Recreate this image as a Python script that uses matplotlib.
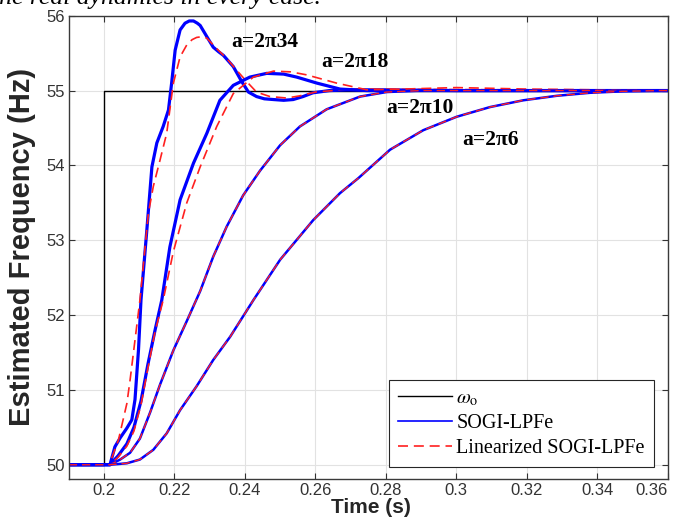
import matplotlib
matplotlib.use('Agg')
import matplotlib.pyplot as plt
from matplotlib.lines import Line2D

# reference step
t_ref = [0.19, 0.2, 0.2, 0.36]
f_ref = [50, 50, 55, 55]

# a = 2*pi*34
t34_b = [0.19, 0.2017, 0.2031, 0.2046, 0.2065, 0.2079, 0.2088, 0.2098, 0.2105, 0.2121, 0.2136,
         0.2150, 0.2168, 0.2183, 0.2192, 0.2202, 0.2216, 0.2230, 0.2242, 0.2254, 0.2265, 0.2273,
         0.2292, 0.2310, 0.2325, 0.2339, 0.2367, 0.2391, 0.2410, 0.2433, 0.2455, 0.2481, 0.2510,
         0.2537, 0.2565, 0.2593, 0.2640, 0.2700, 0.28, 0.30, 0.36]
f34_b = [50, 50, 50.24, 50.36, 50.49, 50.6, 50.87, 51.54, 52.2, 53.10, 53.98,
         54.30, 54.52, 54.74, 55.10, 55.54, 55.81, 55.90, 55.93, 55.93, 55.90, 55.87,
         55.72, 55.58, 55.52, 55.47, 55.32, 55.12, 54.98, 54.92, 54.89, 54.88, 54.87,
         54.88, 54.92, 54.97, 55.0, 55.01, 55.01, 55.0, 55.0]
t34_r = [0.19, 0.2015, 0.2041, 0.2065, 0.2074, 0.2102, 0.2126, 0.2140, 0.2159, 0.2178, 0.2197,
         0.2216, 0.2235, 0.2250, 0.2263, 0.2278, 0.2292, 0.2320, 0.2348, 0.2377, 0.2405, 0.2433,
         0.2471, 0.2519, 0.2556, 0.2600, 0.2700, 0.36]
f34_r = [50, 50, 50.33, 50.82, 51.13, 52.2, 53.36, 53.72, 54.07, 54.43, 55.1,
         55.45, 55.61, 55.68, 55.71, 55.72, 55.70, 55.56, 55.43, 55.27, 55.12, 54.98,
         54.92, 54.90, 54.93, 54.98, 55.02, 55.0]

# a = 2*pi*18
t18_b = [0.19, 0.2017, 0.2040, 0.2065, 0.2085, 0.2105, 0.2125, 0.2145, 0.2164, 0.2187, 0.2216,
         0.2254, 0.2292, 0.2329, 0.2367, 0.2414, 0.2462, 0.2510, 0.2547, 0.2604, 0.2670, 0.2746,
         0.30, 0.36]
f18_b = [50, 50, 50.12, 50.28, 50.5, 50.85, 51.35, 51.8, 52.2, 52.91, 53.54,
         54.03, 54.43, 54.87, 55.07, 55.18, 55.23, 55.22, 55.18, 55.1, 55.02, 55.0,
         55.0, 55.0]
t18_r = [0.19, 0.2017, 0.2040, 0.2065, 0.2085, 0.2105, 0.2125, 0.2145, 0.2168, 0.2197, 0.2235,
         0.2273, 0.2320, 0.2367, 0.2424, 0.2481, 0.2530, 0.2575, 0.2660, 0.2746, 0.2850, 0.30,
         0.32, 0.36]
f18_r = [50, 50, 50.1, 50.25, 50.45, 50.8, 51.3, 51.78, 52.2, 52.85, 53.5,
         53.98, 54.52, 54.96, 55.18, 55.26, 55.25, 55.21, 55.1, 55.01, 55.02, 55.04,
         55.02, 55.0]

# a = 2*pi*10
t10 = [0.19, 0.2017, 0.2046, 0.2074, 0.2102, 0.2131, 0.2159, 0.2197, 0.2235, 0.2273, 0.2310,
       0.2348, 0.2395, 0.2443, 0.2500, 0.2556, 0.2632, 0.2727, 0.2802, 0.29, 0.36]
f10 = [50, 50, 50.07, 50.16, 50.35, 50.7, 51.07, 51.53, 51.92, 52.32, 52.78,
       53.18, 53.6, 53.93, 54.27, 54.52, 54.75, 54.92, 54.98, 55.0, 55.0]

# a = 2*pi*6
t6 = [0.19, 0.2017, 0.2065, 0.2102, 0.2140, 0.2178, 0.2216, 0.2263, 0.2310, 0.2358, 0.2424,
      0.2500, 0.2594, 0.2670, 0.2722, 0.2812, 0.2906, 0.3001, 0.3096, 0.3190, 0.3285, 0.3379,
      0.3474, 0.3578, 0.36]
f6 = [50, 50, 50.02, 50.07, 50.2, 50.42, 50.73, 51.05, 51.40, 51.71, 52.2,
      52.74, 53.27, 53.63, 53.83, 54.21, 54.47, 54.65, 54.78, 54.87, 54.93, 54.97,
      54.99, 55.0, 55.0]

labels_a = ['a=2\u03c034', 'a=2\u03c018', 'a=2\u03c010', 'a=2\u03c06']
label_pos = [(0.2361, 55.65), (0.2616, 55.385), (0.2802, 54.77), (0.3018, 54.34)]

xticks = [0.2, 0.22, 0.24, 0.26, 0.28, 0.3, 0.32, 0.34, 0.36]
xticklabels = ['0.2', '0.22', '0.24', '0.26', '0.28', '0.3', '0.32', '0.34', '0.36']
yticks = [50, 51, 52, 53, 54, 55, 56]

plt.rcParams['mathtext.fontset'] = 'stix'
plt.rcParams['lines.solid_joinstyle'] = 'round'

fig = plt.figure(figsize=(6.74, 5.19), dpi=100)
ax = fig.add_axes([0.102, 0.0771, 0.8887, 0.8926])

blue = '#0000ff'
red = '#ff2020'
ax.plot(t_ref, f_ref, color='black', lw=1.0)
ax.plot(t34_b, f34_b, color=blue, lw=2.3)
ax.plot(t34_r, f34_r, color=red, lw=1.2, dashes=(6, 3.5))
ax.plot(t18_b, f18_b, color=blue, lw=2.3)
ax.plot(t18_r, f18_r, color=red, lw=1.2, dashes=(6, 3.5))
ax.plot(t10, f10, color=blue, lw=1.8)
ax.plot(t10, f10, color=red, lw=1.0, dashes=(6, 3.5))
ax.plot(t6, f6, color=blue, lw=1.8)
ax.plot(t6, f6, color=red, lw=1.0, dashes=(6, 3.5))

for lab, (x, y) in zip(labels_a, label_pos):
    ax.text(x, y, lab, family='Liberation Serif', weight='bold', fontsize=15.5,
            ha='left', va='center')

ax.set_xlim(0.19, 0.36)
ax.set_ylim(49.81, 56)
ax.set_xticks(xticks)
ax.set_xticklabels(xticklabels)
ax.set_yticks(yticks)
ax.grid(True, color='#e2e2e2', lw=0.8)
ax.set_axisbelow(True)
ax.tick_params(direction='in', top=True, right=True, length=4, width=0.8,
               colors='#333333', labelsize=12, pad=3)
for lab in ax.get_xticklabels() + ax.get_yticklabels():
    lab.set_family('Liberation Sans')
ax.get_xticklabels()[-1].set_ha('right')
for s in ax.spines.values():
    s.set_color('#3a3a3a')
    s.set_linewidth(1.0)

ax.set_xlabel('Time (s)', family='Liberation Sans', weight='bold', fontsize=15, color='#262626')
ax.xaxis.set_label_coords(0.505, -0.041)
ax.set_ylabel('Estimated Frequency (Hz)', family='Liberation Sans', weight='bold',
              fontsize=21, color='#262626')
ax.yaxis.set_label_coords(-0.078, 0.5)
ax.yaxis.label.set_va('center')

handles = [Line2D([], [], color='black', lw=1.0),
           Line2D([], [], color=blue, lw=1.2),
           Line2D([], [], color=red, lw=1.2, dashes=(6, 3.5))]
leg = ax.legend(handles, [r'$\omega_{\mathrm{o}}$', 'SOGI-LPFe', 'Linearized SOGI-LPFe'],
                loc='lower right', bbox_to_anchor=(0.977, 0.0265), borderaxespad=0,
                prop={'family': 'Liberation Serif', 'size': 14.5}, fancybox=False,
                framealpha=1, edgecolor='#262626', handlelength=2.7, handletextpad=0.2,
                labelspacing=0.28, borderpad=0.45)
leg.get_frame().set_linewidth(0.8)

# cut-off line of running text above the figure
fig.text(-0.012, 1 - 4 / 519, 'the real dynamics in every case.', family='Liberation Serif',
         style='italic', fontsize=18.5, ha='left', va='baseline')

fig.savefig('out.png', dpi=100)
